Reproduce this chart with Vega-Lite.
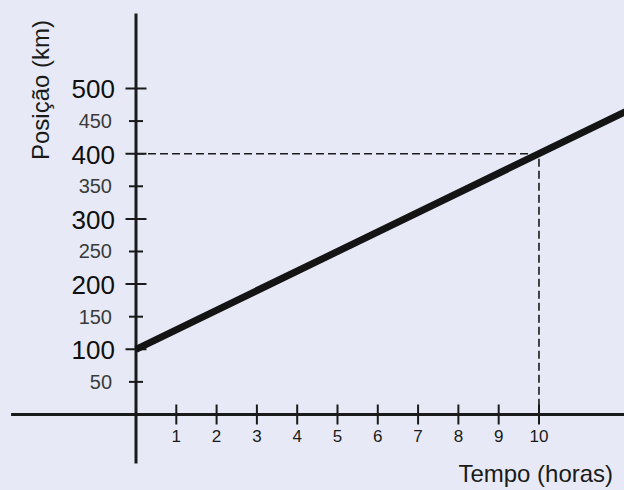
{
  "$schema": "https://vega.github.io/schema/vega-lite/v6.json",
  "autosize": {"type": "fit", "contains": "padding"},
  "width": 624,
  "height": 490,
  "padding": 0,
  "background": "#e7eaf6",
  "config": {"view": {"stroke": null}, "font": "Liberation Sans"},
  "datasets": {
    "linha": [{"t": 0, "v": 100}, {"t": 10, "v": 400}, {"t": 13, "v": 490}],
    "guia": [{"t": 0, "v": 400, "o": 1}, {"t": 10, "v": 400, "o": 2}, {"t": 10, "v": 0, "o": 3}],
    "ytk": [
      {"v": 50, "k": "menor"}, {"v": 100, "k": "maior"}, {"v": 150, "k": "menor"},
      {"v": 200, "k": "maior"}, {"v": 250, "k": "menor"}, {"v": 300, "k": "maior"},
      {"v": 350, "k": "menor"}, {"v": 400, "k": "maior"}, {"v": 450, "k": "menor"},
      {"v": 500, "k": "maior"}
    ],
    "xtk": [{"t": 1}, {"t": 2}, {"t": 3}, {"t": 4}, {"t": 5}, {"t": 6}, {"t": 7}, {"t": 8}, {"t": 9}, {"t": 10}],
    "um": [{}]
  },
  "layer": [
    {
      "data": {"name": "um"},
      "mark": {"type": "rule", "strokeWidth": 3, "color": "#1a1a1a", "clip": true},
      "encoding": {
        "x": {"datum": -3.1, "type": "quantitative", "scale": {"domain": [-3.375, 12.11], "nice": false, "zero": false}, "axis": null},
        "x2": {"datum": 12.2},
        "y": {"datum": 0, "type": "quantitative", "scale": {"domain": [-115.8, 635.7], "nice": false, "zero": false}, "axis": null}
      }
    },
    {
      "data": {"name": "um"},
      "mark": {"type": "rule", "strokeWidth": 3, "color": "#1a1a1a"},
      "encoding": {
        "x": {"datum": 0, "type": "quantitative", "scale": {"domain": [-3.375, 12.11], "nice": false, "zero": false}, "axis": null},
        "y": {"datum": 615, "type": "quantitative", "scale": {"domain": [-115.8, 635.7], "nice": false, "zero": false}, "axis": null},
        "y2": {"datum": -75}
      }
    },
    {
      "data": {"name": "ytk"},
      "transform": [{"filter": "datum.k === 'maior'"}],
      "mark": {"type": "tick", "orient": "horizontal", "size": 21, "thickness": 2, "color": "#1a1a1a", "opacity": 1},
      "encoding": {
        "x": {"datum": 0, "type": "quantitative", "scale": {"domain": [-3.375, 12.11], "nice": false, "zero": false}, "axis": null},
        "y": {"field": "v", "type": "quantitative", "scale": {"domain": [-115.8, 635.7], "nice": false, "zero": false}, "axis": null}
      }
    },
    {
      "data": {"name": "ytk"},
      "transform": [{"filter": "datum.k === 'menor'"}],
      "mark": {"type": "tick", "orient": "horizontal", "size": 14, "thickness": 2, "color": "#1a1a1a", "opacity": 1},
      "encoding": {
        "x": {"datum": 0, "type": "quantitative", "scale": {"domain": [-3.375, 12.11], "nice": false, "zero": false}, "axis": null},
        "y": {"field": "v", "type": "quantitative", "scale": {"domain": [-115.8, 635.7], "nice": false, "zero": false}, "axis": null}
      }
    },
    {
      "data": {"name": "xtk"},
      "mark": {"type": "tick", "orient": "vertical", "size": 20, "thickness": 2, "color": "#1a1a1a", "opacity": 1},
      "encoding": {
        "x": {"field": "t", "type": "quantitative", "scale": {"domain": [-3.375, 12.11], "nice": false, "zero": false}, "axis": null},
        "y": {"datum": 0, "type": "quantitative", "scale": {"domain": [-115.8, 635.7], "nice": false, "zero": false}, "axis": null}
      }
    },
    {
      "data": {"name": "ytk"},
      "transform": [{"filter": "datum.k === 'maior'"}],
      "mark": {"type": "text", "align": "right", "baseline": "middle", "dx": -21, "dy": 2, "fontSize": 26, "color": "#0f0f0f"},
      "encoding": {
        "x": {"datum": 0, "type": "quantitative", "scale": {"domain": [-3.375, 12.11], "nice": false, "zero": false}, "axis": null},
        "y": {"field": "v", "type": "quantitative", "scale": {"domain": [-115.8, 635.7], "nice": false, "zero": false}, "axis": null},
        "text": {"field": "v", "type": "quantitative"}
      }
    },
    {
      "data": {"name": "ytk"},
      "transform": [{"filter": "datum.k === 'menor'"}],
      "mark": {"type": "text", "align": "right", "baseline": "middle", "dx": -24, "dy": 1, "fontSize": 20, "color": "#3a3a3a"},
      "encoding": {
        "x": {"datum": 0, "type": "quantitative", "scale": {"domain": [-3.375, 12.11], "nice": false, "zero": false}, "axis": null},
        "y": {"field": "v", "type": "quantitative", "scale": {"domain": [-115.8, 635.7], "nice": false, "zero": false}, "axis": null},
        "text": {"field": "v", "type": "quantitative"}
      }
    },
    {
      "data": {"name": "xtk"},
      "mark": {"type": "text", "align": "center", "baseline": "middle", "dy": 23, "fontSize": 17, "color": "#1a1a1a"},
      "encoding": {
        "x": {"field": "t", "type": "quantitative", "scale": {"domain": [-3.375, 12.11], "nice": false, "zero": false}, "axis": null},
        "y": {"datum": 0, "type": "quantitative", "scale": {"domain": [-115.8, 635.7], "nice": false, "zero": false}, "axis": null},
        "text": {"field": "t", "type": "quantitative"}
      }
    },
    {
      "data": {"name": "guia"},
      "mark": {"type": "line", "strokeWidth": 1.6, "strokeDash": [8, 4], "color": "#1a1a1a"},
      "encoding": {
        "x": {"field": "t", "type": "quantitative", "scale": {"domain": [-3.375, 12.11], "nice": false, "zero": false}, "axis": null},
        "y": {"field": "v", "type": "quantitative", "scale": {"domain": [-115.8, 635.7], "nice": false, "zero": false}, "axis": null},
        "order": {"field": "o", "type": "quantitative"}
      }
    },
    {
      "data": {"name": "linha"},
      "mark": {"type": "line", "strokeWidth": 7, "color": "#141414", "clip": true},
      "encoding": {
        "x": {"field": "t", "type": "quantitative", "scale": {"domain": [-3.375, 12.11], "nice": false, "zero": false}, "axis": null},
        "y": {"field": "v", "type": "quantitative", "scale": {"domain": [-115.8, 635.7], "nice": false, "zero": false}, "axis": null}
      }
    },
    {
      "data": {"name": "um"},
      "mark": {"type": "text", "text": "Posição (km)", "angle": 270, "align": "center", "baseline": "middle", "fontSize": 24, "color": "#1a1a1a"},
      "encoding": {
        "x": {"datum": -2.33, "type": "quantitative", "scale": {"domain": [-3.375, 12.11], "nice": false, "zero": false}, "axis": null},
        "y": {"datum": 497.7, "type": "quantitative", "scale": {"domain": [-115.8, 635.7], "nice": false, "zero": false}, "axis": null}
      }
    },
    {
      "data": {"name": "um"},
      "mark": {"type": "text", "text": "Tempo (horas)", "align": "right", "baseline": "middle", "fontSize": 24, "color": "#1a1a1a"},
      "encoding": {
        "x": {"datum": 11.84, "type": "quantitative", "scale": {"domain": [-3.375, 12.11], "nice": false, "zero": false}, "axis": null},
        "y": {"datum": -92.8, "type": "quantitative", "scale": {"domain": [-115.8, 635.7], "nice": false, "zero": false}, "axis": null}
      }
    }
  ]
}
